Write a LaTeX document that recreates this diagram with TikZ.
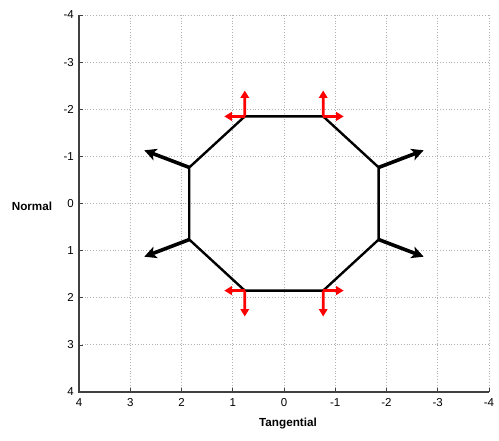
\documentclass[tikz,border=0pt]{standalone}
\usepackage{fontspec}
\setmainfont{Liberation Sans}
\usetikzlibrary{arrows.meta}

\tikzset{
    gridline/.style={gray!60, dotted, line width=0.8pt},
    axisline/.style={gray!50!black, line width=1.1pt},
    ticklabel/.style={font=\fontsize{11.5}{13}\selectfont, inner sep=0pt},
    axislabel/.style={font=\fontsize{11.7}{14}\selectfont\bfseries, inner sep=0pt},
    octagon/.style={black, line width=2.4pt, line join=round},
    normalarrow/.style={-{Stealth[length=12pt, width=12pt, inset=3pt]}, black, line width=3.6pt},
    surfarrow/.style={-{Triangle[length=7.5pt, width=8.5pt]}, red, line width=2.8pt}
}

\begin{document}
\begin{tikzpicture}[x=-51.25pt, y=-47.125pt]
    \useasboundingbox (5.541, -4.318) rectangle (-4.195, 5.019);

    % grid
    \foreach \t in {-4,...,4} {
        \draw[gridline] (\t, -4) -- (\t, 4);
        \draw[gridline] (4, \t) -- (-4, \t);
    }

    % axes and ticks
    \draw[axisline] (4, -4) -- (4, 4) -- (-4, 4);
    \foreach \t [count=\i] in {4,3,2,1,0,-1,-2,-3,-4} {
        \draw[axisline, line width=0.7pt] (\t, 4) -- ++(0, -0.085);
        \draw[axisline, line width=0.7pt] (4, \t) -- ++(-0.078, 0);
        \draw (\t, 4) node[ticklabel, anchor=north, yshift=-6pt] (xl\i) {\t};
        \draw (4, \t) node[ticklabel, anchor=east, xshift=-5pt] (yl\i) {\t};
    }

    \draw (4.917, 0.053) node[axislabel] (normal) {Normal};
    \draw (-0.078, 4.658) node[axislabel] (tangential) {Tangential};

    % octagon vertices and tips
    \foreach \a [count=\i] in {22.5,67.5,...,337.5} {
        \coordinate (v\i) at (\a:2);
        \coordinate (n\i) at (\a:2.95);
    }
    \coordinate (tv2) at (0.765, 2.398);   \coordinate (th2) at (1.165, 1.848);
    \coordinate (tv3) at (-0.765, 2.398);  \coordinate (th3) at (-1.165, 1.848);
    \coordinate (tv6) at (-0.765, -2.398); \coordinate (th6) at (-1.165, -1.848);
    \coordinate (tv7) at (0.765, -2.398);  \coordinate (th7) at (1.165, -1.848);

    \draw[octagon] (v1) -- (v2) -- (v3) -- (v4) -- (v5) -- (v6) -- (v7) -- (v8) -- cycle;

    \foreach \i in {1,4,5,8}
        \draw[normalarrow] (v\i) -- (n\i);
    \foreach \i in {2,3,6,7} {
        \draw[surfarrow] (v\i) -- (tv\i);
        \draw[surfarrow] (v\i) -- (th\i);
    }
\end{tikzpicture}
\end{document}
